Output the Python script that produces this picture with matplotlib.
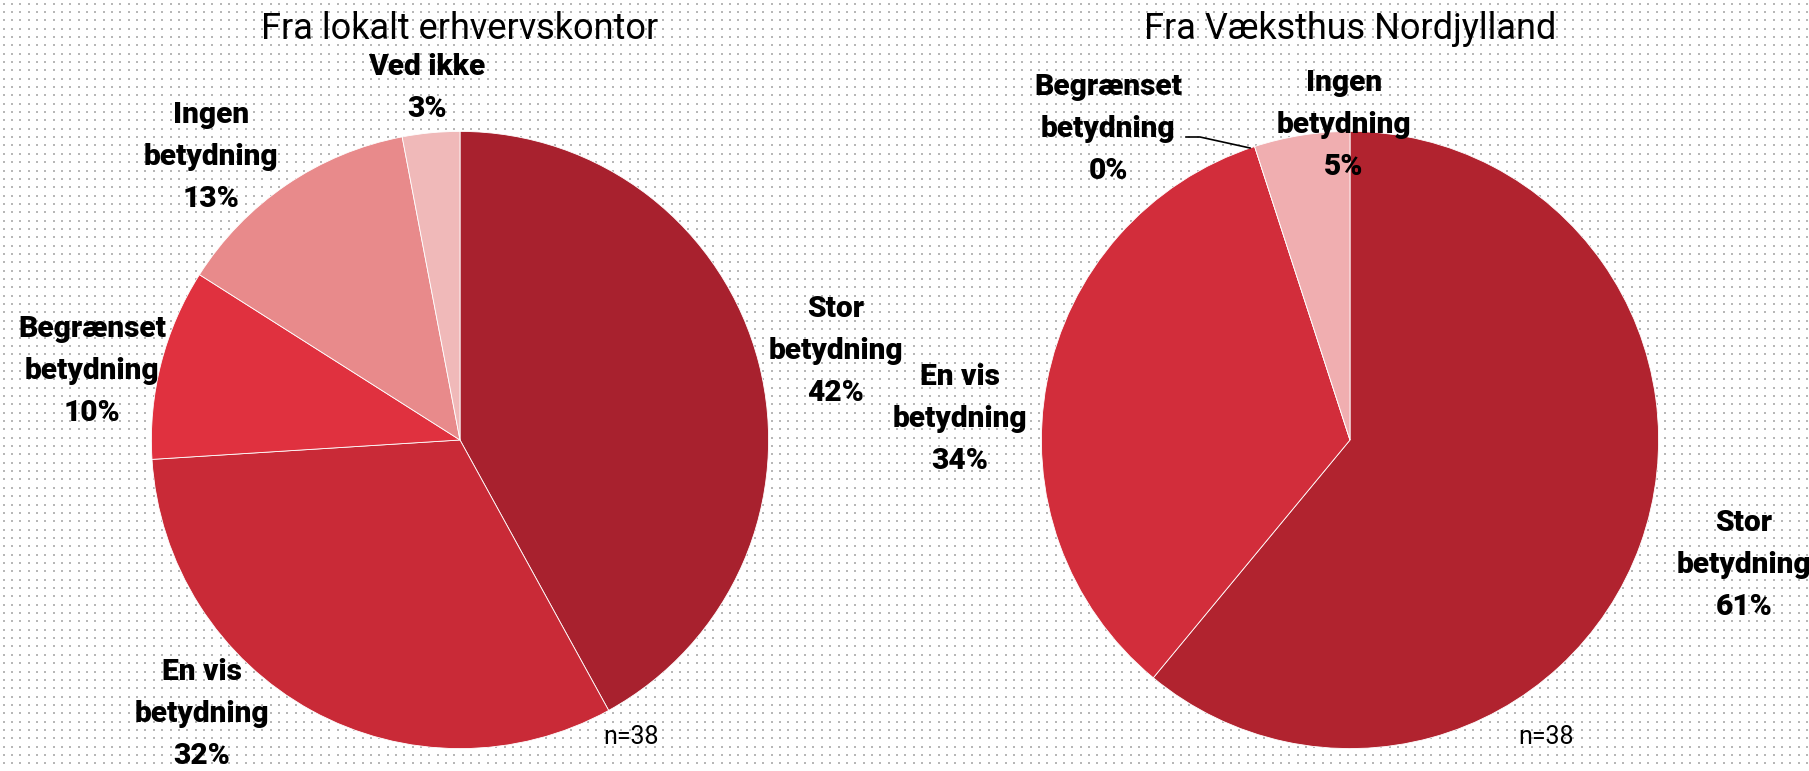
import numpy as np
import matplotlib.pyplot as plt
from matplotlib.lines import Line2D

# data
left_labels = ["Stor\nbetydning", "En vis\nbetydning", "Begrænset\nbetydning", "Ingen\nbetydning", "Ved ikke"]
left_values = [42, 32, 10, 13, 3]
left_colors = ["#A8212E", "#C92A37", "#E0313F", "#E88A8B", "#F0B9B9"]

right_labels = ["Stor\nbetydning", "En vis\nbetydning", "Begrænset\nbetydning", "Ingen\nbetydning"]
right_values = [61, 34, 0, 5]
right_colors = ["#B1232F", "#D22D3B", "#E0313F", "#F0AEB0"]

titles = ["Fra lokalt erhvervskontor", "Fra Væksthus Nordjylland"]
n_text = "n=38"

W, H = 1809, 771
fig = plt.figure(figsize=(W / 100, H / 100), dpi=100)

# dotted background
bg = np.ones((H, W, 3))
step = 8.35
ys = (np.arange(0, H, step) + 3).astype(int)
xs = (np.arange(0, W, step) + 3).astype(int)
for y in ys:
    for x in xs:
        bg[y:y + 2, x:x + 2] = 0.72
fig.figimage(bg, 0, 0, zorder=-10)


def px(x, y):
    return x / W, 1 - y / H


def add_pie(cx, cy, r, values, colors):
    ax = fig.add_axes([(cx - r) / W, 1 - (cy + r) / H, 2 * r / W, 2 * r / H])
    ax.set_zorder(1)
    ax.pie(values, colors=colors, startangle=90, counterclock=False,
           wedgeprops=dict(edgecolor="white", linewidth=0.6))
    ax.set_xlim(-1, 1)
    ax.set_ylim(-1, 1)
    ax.set_aspect("equal")
    ax.axis("off")
    return ax


add_pie(460, 440, 308.6, left_values, left_colors)
add_pie(1350, 440, 308.6, right_values, right_colors)

lab_font = dict(family="Roboto", fontweight="heavy", fontsize=21.5, ha="center",
                va="center", linespacing=1.62, zorder=5)
title_font = dict(family="Roboto", fontweight="normal", fontsize=26, ha="center", va="center")

# titles
fig.text(*px(460, 29), titles[0], **title_font)
fig.text(*px(1350, 29), titles[1], **title_font)

# left labels
left_pos = [(836, 351), (202, 714), (92, 371), (211, 157), (427, 88)]
for lab, v, (x, y) in zip(left_labels, left_values, left_pos):
    fig.text(*px(x, y), f"{lab}\n{v}%", **lab_font)

# right labels
right_pos = [(1744, 565), (960, 419), (1108, 129), (1344, 125)]
for lab, v, (x, y) in zip(right_labels, right_values, right_pos):
    fig.text(*px(x, y), f"{lab}\n{v}%", **lab_font)

# leader line for 0%
fig.add_artist(Line2D([1186 / W, 1200 / W, 1250 / W],
                      [1 - 137 / H, 1 - 137 / H, 1 - 148 / H],
                      color="black", linewidth=1.2, transform=fig.transFigure))

fig.text(*px(631, 737), n_text, family="Roboto", fontsize=18,
         ha="center", va="center")
fig.text(*px(1546, 737), n_text, family="Roboto", fontsize=18,
         ha="center", va="center")

fig.savefig("out.png", dpi=100)
